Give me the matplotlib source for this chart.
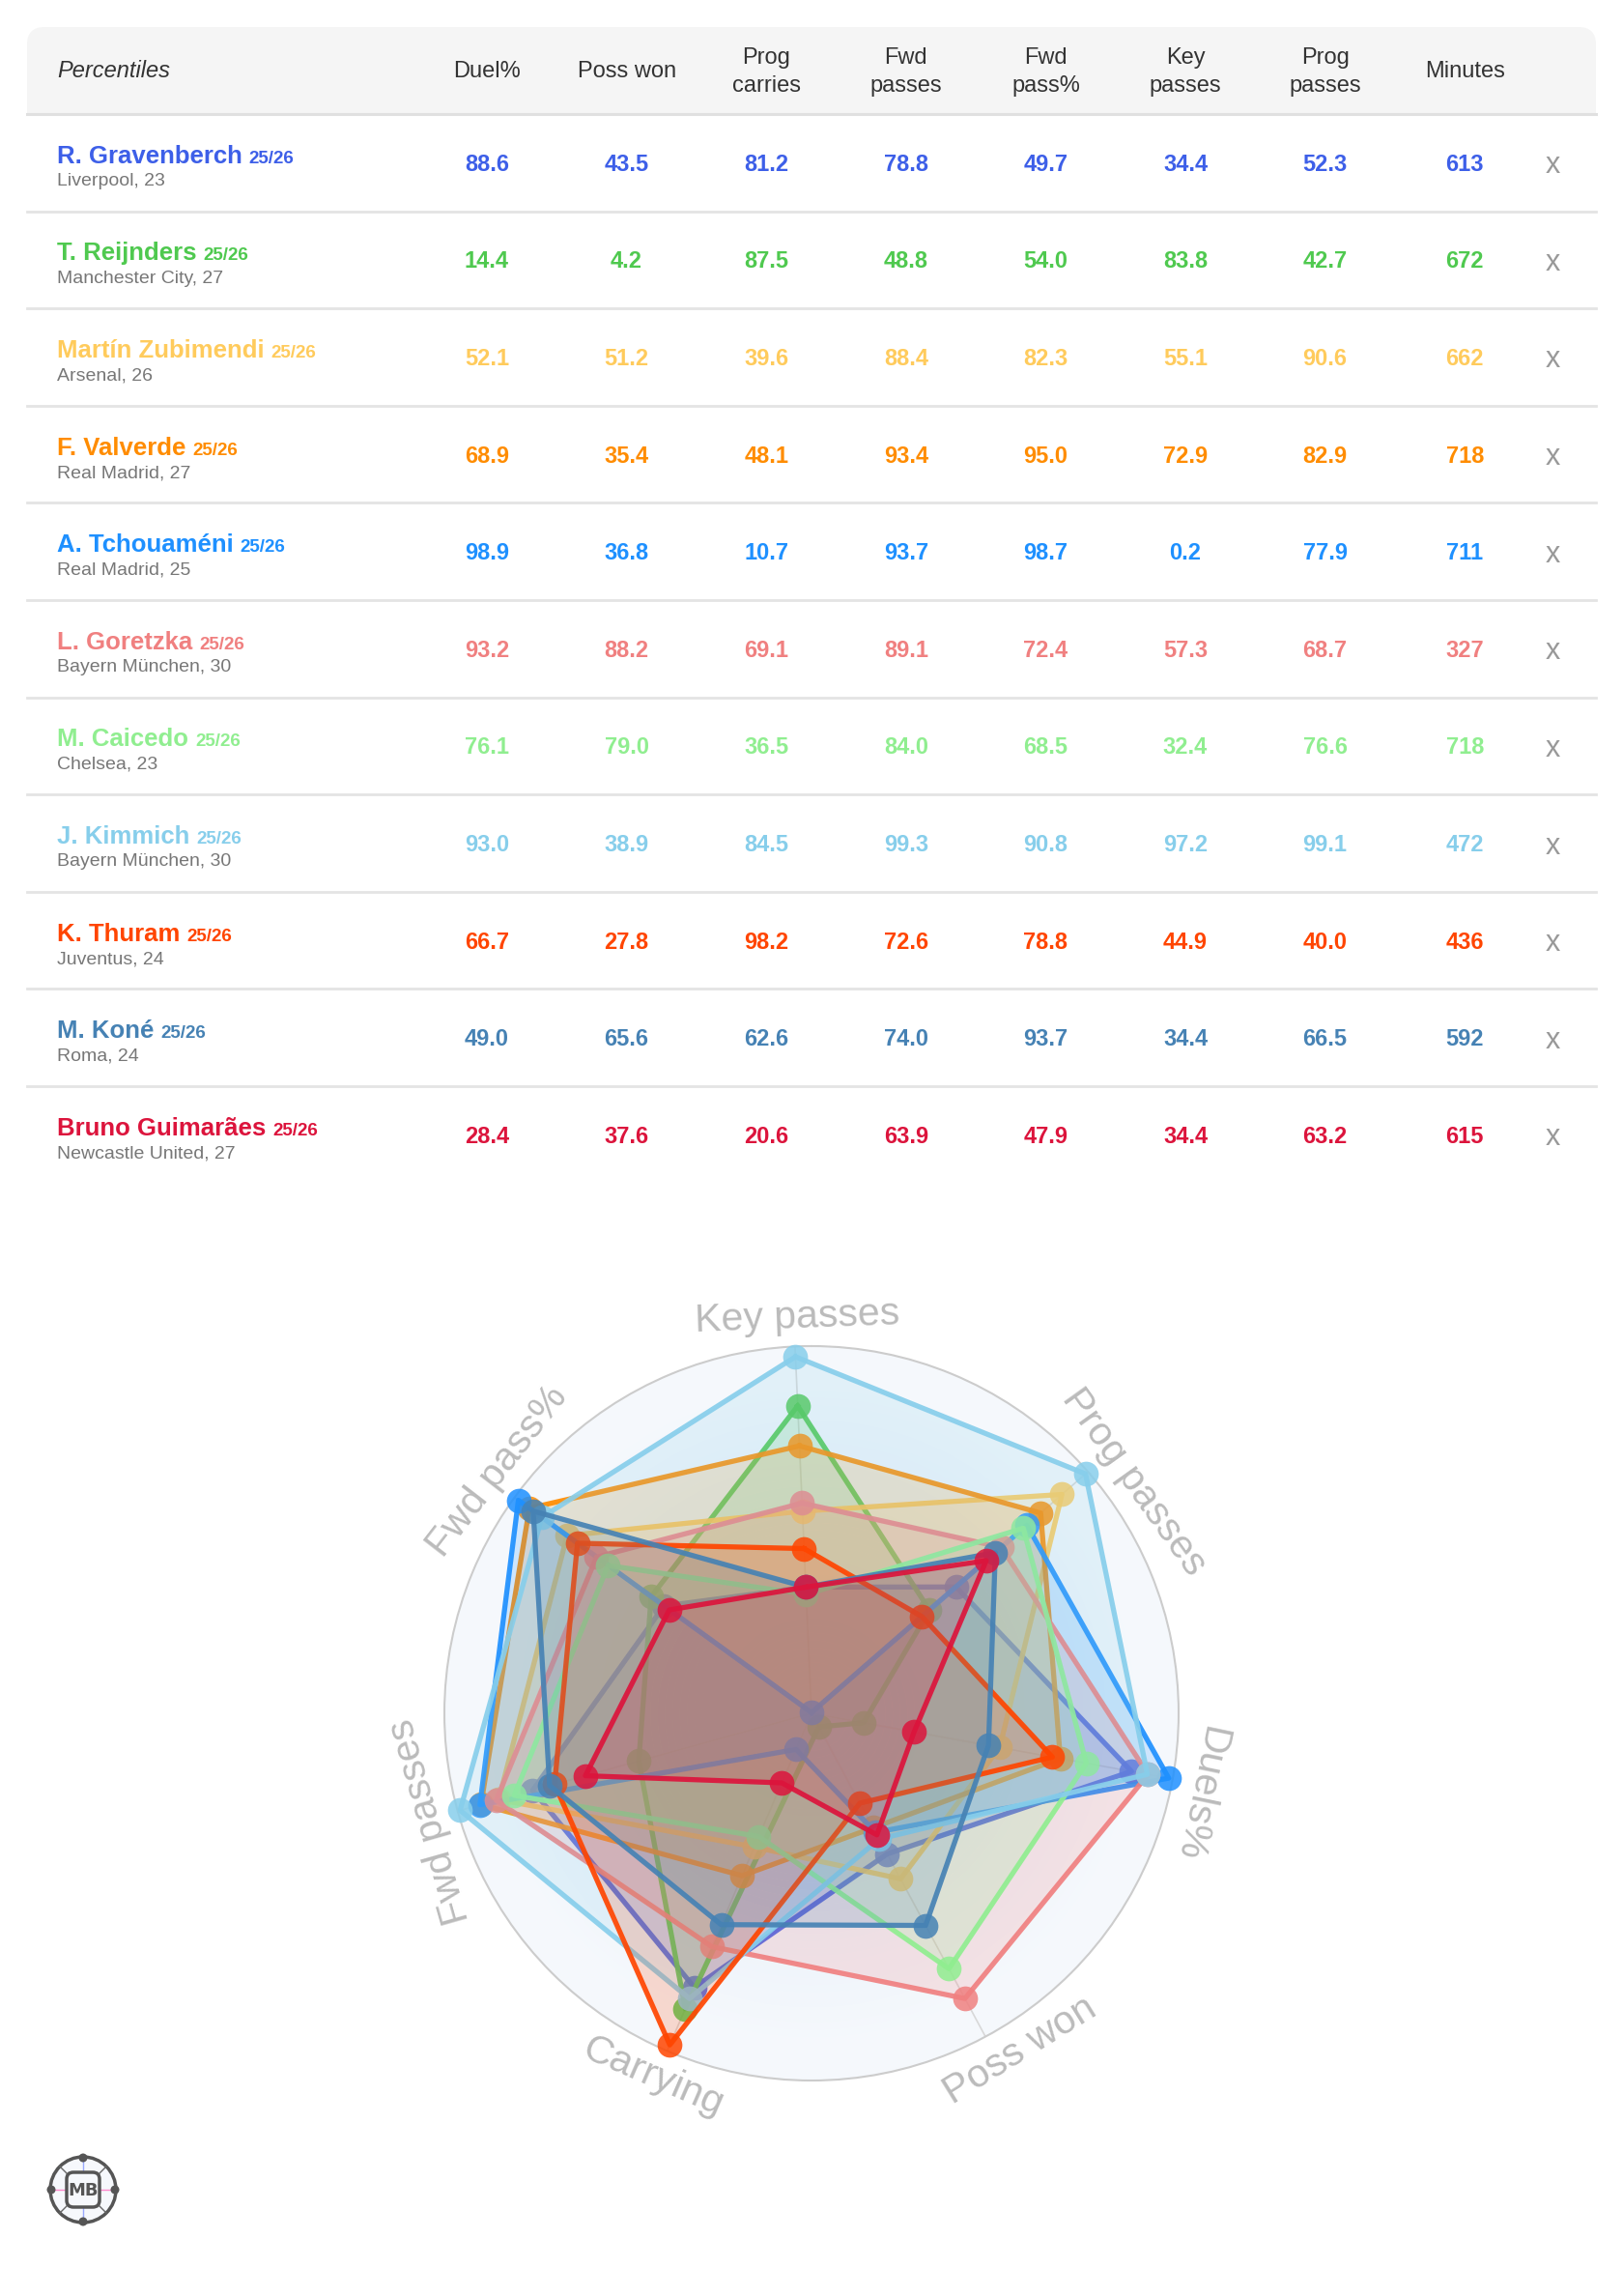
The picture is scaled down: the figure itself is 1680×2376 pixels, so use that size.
import numpy as np
import matplotlib
matplotlib.use("Agg")
import matplotlib.pyplot as plt
from matplotlib.patches import FancyBboxPatch, Rectangle, Circle
from matplotlib.colors import to_rgb

plt.rcParams['font.family'] = ['Liberation Sans', 'DejaVu Sans']

# ---------------- data ----------------
players = ['R. Gravenberch', 'T. Reijnders', 'Martín Zubimendi', 'F. Valverde',
           'A. Tchouaméni', 'L. Goretzka', 'M. Caicedo', 'J. Kimmich',
           'K. Thuram', 'M. Koné', 'Bruno Guimarães']
season = '25/26'
clubs = ['Liverpool, 23', 'Manchester City, 27', 'Arsenal, 26', 'Real Madrid, 27',
         'Real Madrid, 25', 'Bayern München, 30', 'Chelsea, 23', 'Bayern München, 30',
         'Juventus, 24', 'Roma, 24', 'Newcastle United, 27']
colors = ['#3d5fe8', '#4fc94f', '#ffcb5c', '#ff8c00', '#1e90ff', '#f08080',
          '#90ee90', '#87ceeb', '#ff4500', '#4682b4', '#dc143c']

duel = [88.6, 14.4, 52.1, 68.9, 98.9, 93.2, 76.1, 93.0, 66.7, 49.0, 28.4]
poss_won = [43.5, 4.2, 51.2, 35.4, 36.8, 88.2, 79.0, 38.9, 27.8, 65.6, 37.6]
prog_carries = [81.2, 87.5, 39.6, 48.1, 10.7, 69.1, 36.5, 84.5, 98.2, 62.6, 20.6]
fwd_passes = [78.8, 48.8, 88.4, 93.4, 93.7, 89.1, 84.0, 99.3, 72.6, 74.0, 63.9]
fwd_pass_pct = [49.7, 54.0, 82.3, 95.0, 98.7, 72.4, 68.5, 90.8, 78.8, 93.7, 47.9]
key_passes = [34.4, 83.8, 55.1, 72.9, 0.2, 57.3, 32.4, 97.2, 44.9, 34.4, 34.4]
prog_passes = [52.3, 42.7, 90.6, 82.9, 77.9, 68.7, 76.6, 99.1, 40.0, 66.5, 63.2]
minutes = [613, 672, 662, 718, 711, 327, 718, 472, 436, 592, 615]

header_title = 'Percentiles'
header_labels = ['Duel%', 'Poss won', 'Prog\ncarries', 'Fwd\npasses', 'Fwd\npass%',
                 'Key\npasses', 'Prog\npasses', 'Minutes']
radar_labels = ['Key passes', 'Prog passes', 'Duels%', 'Poss won', 'Carrying',
                'Fwd passes', 'Fwd pass%']

# ---------------- figure ----------------
W, H = 1680, 2376
fig = plt.figure(figsize=(W / 100, H / 100), dpi=100)
fig.patch.set_facecolor('white')
ax = fig.add_axes([0, 0, 1, 1])
ax.set_xlim(0, W)
ax.set_ylim(H, 0)
ax.axis('off')

# ---------------- table ----------------
left, right = 28, 1652
top, hdr_bottom = 28, 118
row_h = 100.6
col_x0, col_dx = 504, 144.6
x_col = 1607

ax.add_patch(FancyBboxPatch((left, top), right - left, hdr_bottom - top,
                            boxstyle="round,pad=0,rounding_size=18",
                            fc='#f5f5f5', ec='none', zorder=1))
ax.add_patch(Rectangle((left, top + 40), right - left, hdr_bottom - top - 40,
                       fc='#f5f5f5', ec='none', zorder=1))
ax.plot([left, right], [hdr_bottom, hdr_bottom], color='#e0e0e0', lw=2.2, zorder=3)

ax.text(59, 74, header_title, fontsize=17, style='italic', color='#333333',
        ha='left', va='center', zorder=4)
for k, lab in enumerate(header_labels):
    xc = col_x0 + col_dx * k
    parts = lab.split('\n')
    if len(parts) == 1:
        ax.text(xc, 74, parts[0], fontsize=17, color='#333333', ha='center',
                va='center', zorder=4)
    else:
        ax.text(xc, 60, parts[0], fontsize=17, color='#333333', ha='center',
                va='center', zorder=4)
        ax.text(xc, 89, parts[1], fontsize=17, color='#333333', ha='center',
                va='center', zorder=4)

renderer = fig.canvas.get_renderer()
table_cols = [duel, poss_won, prog_carries, fwd_passes, fwd_pass_pct,
              key_passes, prog_passes, minutes]
n = len(players)
for i in range(n):
    yc = hdr_bottom + row_h * i + row_h / 2
    c = colors[i]
    t = ax.text(59, yc + 0.5, players[i], fontsize=18.5, fontweight='bold',
                color=c, ha='left', va='baseline', zorder=4)
    w = t.get_window_extent(renderer=renderer).width
    ax.text(59 + w + 7, yc + 0.5, season, fontsize=13.5, fontweight='bold',
            color=c, ha='left', va='baseline', zorder=4)
    ax.text(59, yc + 24, clubs[i], fontsize=14, color='#777777', ha='left',
            va='baseline', zorder=4)
    for k, col in enumerate(table_cols):
        v = col[i]
        s = f'{v:d}' if isinstance(v, int) else f'{v:.1f}'
        ax.text(col_x0 + col_dx * k, yc + 2, s, fontsize=17, fontweight='bold',
                color=c, ha='center', va='center', zorder=4)
    ax.text(x_col, yc + 3, 'x', fontsize=22, color='#999999', ha='center',
            va='center', zorder=4)
    if i < n - 1:
        yl = hdr_bottom + row_h * (i + 1)
        ax.plot([left, right], [yl, yl], color='#e4e4e4', lw=2, zorder=3)

# ---------------- radar ----------------
cx, cy, R = 840, 1773, 380
rax = fig.add_axes([(cx - R) / W, (H - cy - R) / H, 2 * R / W, 2 * R / H],
                   projection='polar')
rax.set_theta_zero_location('N')
rax.set_theta_direction(-1)
rax.set_ylim(0, 100)
rax.grid(False)
rax.set_xticks([])
rax.set_yticks([])
rax.set_facecolor('#f5f8fc')
rax.spines['polar'].set_color('#cccccc')
rax.spines['polar'].set_linewidth(1.5)

# soft radial background gradient
th_g = np.linspace(0, 2 * np.pi, 361)
r_g = np.linspace(0, 100, 51)
c_in, c_out = np.array(to_rgb('#e4eef7')), np.array(to_rgb('#f5f8fc'))
for j in range(len(r_g) - 1):
    f = np.clip(((r_g[j] + r_g[j + 1]) / 200.0 - 0.25) / 0.65, 0, 1)
    cj = tuple(c_in * (1 - f) + c_out * f)
    rax.fill_between(th_g, r_g[j], r_g[j + 1], color=cj, lw=0, zorder=0)

nax = len(radar_labels)
rot_offset = -2.57
theta = np.radians(np.arange(nax) * 360.0 / nax + rot_offset)
for th in theta:
    rax.plot([th, th], [0, 100], color='#d8d8d8', lw=1.2, zorder=1)

radar_series = [key_passes, prog_passes, duel, poss_won, prog_carries,
                fwd_passes, fwd_pass_pct]
for i in range(n):
    vals = np.array([s[i] for s in radar_series])
    th_c = np.append(theta, theta[0])
    v_c = np.append(vals, vals[0])
    z = 2 + i * 3
    rax.fill(th_c, v_c, color=colors[i], alpha=0.18, lw=0, zorder=z)
    rax.plot(th_c, v_c, color=colors[i], lw=3.8, alpha=0.92,
             solid_joinstyle='round', zorder=z + 1)
    rax.plot(theta, vals, 'o', ms=18.5, color=colors[i], alpha=0.85, mec='none',
             zorder=z + 2, clip_on=False)

label_adjust = [0.5, 5.5, 1.5, -3.5, 0.3, -0.4, 1.7]
for k, lab in enumerate(radar_labels):
    deg = np.degrees(theta[k]) + label_adjust[k]
    rot = (-deg + 180) % 360 - 180
    if abs(rot) > 110:
        rot = (rot + 360) % 360 - 180
    rax.text(np.radians(deg), 108, lab, fontsize=29.5, color='#bbbbbb',
             ha='center', va='center', rotation=rot, rotation_mode='anchor',
             clip_on=False)

# ---------------- logo ----------------
lx, ly = 86, 2266
ax.add_patch(Circle((lx, ly), 34, fc='#f6f8fc', ec='#555555', lw=2.5, zorder=5))
ax.plot([lx, lx], [ly - 34, ly - 19], color='#9aa8ff', lw=1, zorder=6)
ax.plot([lx, lx], [ly + 19, ly + 34], color='#9aa8ff', lw=1, zorder=6)
ax.plot([lx - 34, lx - 18], [ly, ly], color='#ff88cc', lw=1, zorder=6)
ax.plot([lx + 18, lx + 34], [ly, ly], color='#ff88cc', lw=1, zorder=6)
for sx, sy in [(-1, -1), (1, -1), (-1, 1), (1, 1)]:
    ax.plot([lx + sx * 17, lx + sx * 24], [ly + sy * 17, ly + sy * 24],
            color='#666666', lw=1, zorder=6)
for ddx, ddy in [(0, -33), (0, 33), (-33, 0), (33, 0)]:
    ax.add_patch(Circle((lx + ddx, ly + ddy), 4.5, fc='#555555', ec='none', zorder=6))
ax.add_patch(FancyBboxPatch((lx - 17, ly - 18), 34, 36,
                            boxstyle="round,pad=0,rounding_size=7",
                            fc='#f6f8fc', ec='#555555', lw=2.5, zorder=7))
ax.text(lx, ly + 1, 'MB', fontsize=13, fontweight='bold', color='#555555',
        ha='center', va='center', family='DejaVu Sans', zorder=8)

fig.savefig('out.png', dpi=100, facecolor='white')
